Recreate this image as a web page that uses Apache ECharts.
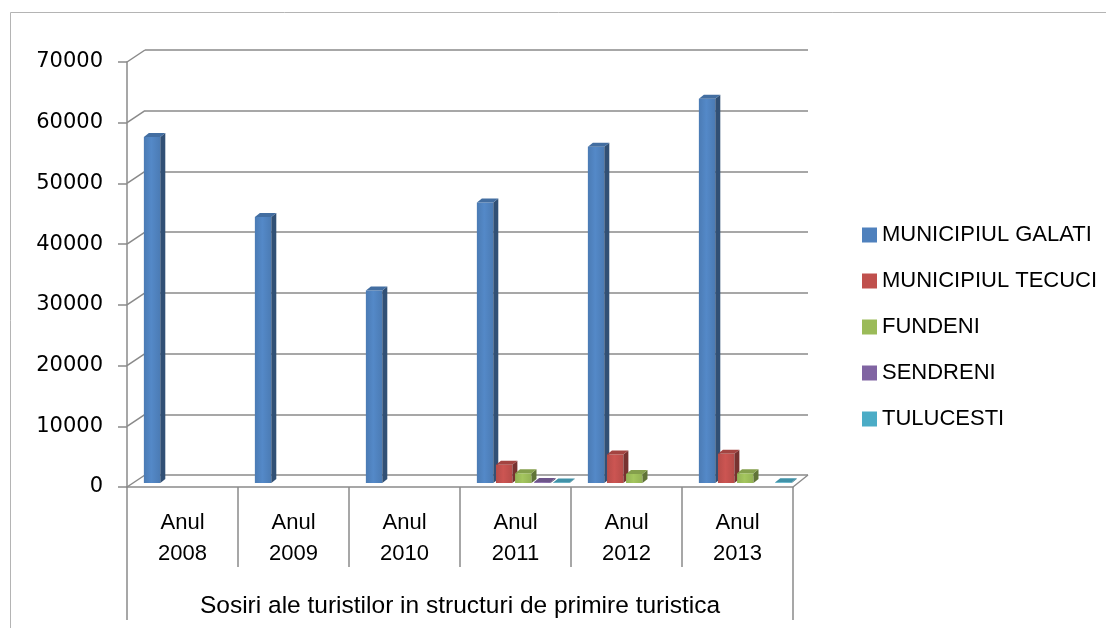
<!DOCTYPE html>
<html>
<head>
<meta charset="utf-8">
<title>Sosiri ale turistilor</title>
<script src="https://cdn.jsdelivr.net/npm/echarts@6/dist/echarts.min.js"></script>
<style>
  html, body { margin: 0; padding: 0; background: #fff; }
  #chart { width: 1106px; height: 628px; }
</style>
</head>
<body>
<div id="chart"></div>
<script>
/* ---------- data ---------- */
const categories = ["Anul\n2008", "Anul\n2009", "Anul\n2010", "Anul\n2011", "Anul\n2012", "Anul\n2013"];
const galati = [57000, 43800, 31700, 46200, 55400, 63300];
const tecuci = [0, 0, 0, 3000, 4700, 4800];
const fundeni = [0, 0, 0, 1600, 1500, 1600];
const sendreni = [0, 0, 0, 150, 0, 0];
const tulucesti = [0, 0, 0, 100, 0, 120];
const yTicks = [0, 10000, 20000, 30000, 40000, 50000, 60000, 70000];
const axisTitle = "Sosiri ale turistilor in structuri de primire turistica";

const seriesDefs = [
  { name: "MUNICIPIUL GALATI", data: galati, color: "#4F81BD" },
  { name: "MUNICIPIUL TECUCI", data: tecuci, color: "#C0504D" },
  { name: "FUNDENI", data: fundeni, color: "#9BBB59" },
  { name: "SENDRENI", data: sendreni, color: "#8064A2" },
  { name: "TULUCESTI", data: tulucesti, color: "#4BACC6" }
];

const lineColor = "#8a8a8a";
const labelFont = "Liberation Sans";

// multiply rgb channels (k < 1 darkens, k > 1 lightens)
function shade(hex, k) {
  const n = parseInt(hex.slice(1), 16);
  const ch = [(n >> 16) & 255, (n >> 8) & 255, n & 255].map(c => Math.max(0, Math.min(255, Math.round(c * k))));
  return "rgb(" + ch.join(",") + ")";
}

// draws a bar as a small box: front face, right side and top
function boxRenderer(slot, baseColor) {
  return function (params, api) {
    const v = api.value(1);
    if (!v) return null;
    const idx = api.value(0);
    const band = api.size([1, 0])[0];
    const base = api.coord([idx, 0]);
    const top = api.coord([idx, v]);
    const x = base[0] - band / 2 + band * 0.152 + slot * band * 0.172;
    const w = band * 0.148;
    const dx = 5, dy = 4, lift = 4;
    const y0 = base[1] - lift;
    const y1 = top[1] - lift;
    return {
      type: "group",
      children: [
        {
          type: "rect",
          shape: { x: x, y: y1, width: w, height: y0 - y1 },
          style: {
            fill: new echarts.graphic.LinearGradient(0, 0, 1, 0, [
              { offset: 0, color: shade(baseColor, 0.95) },
              { offset: 0.45, color: shade(baseColor, 1.06) },
              { offset: 1, color: shade(baseColor, 0.95) }
            ])
          }
        },
        {
          type: "polygon",
          shape: { points: [[x + w, y1], [x + w + dx, y1 - dy], [x + w + dx, y0 - dy], [x + w, y0]] },
          style: { fill: shade(baseColor, 0.62) }
        },
        {
          type: "polygon",
          shape: { points: [[x, y1], [x + dx, y1 - dy], [x + w + dx, y1 - dy], [x + w, y1]] },
          style: { fill: shade(baseColor, 0.85) }
        }
      ]
    };
  };
}

// short diagonal joins between the front axis and the back wall
function wallRenderer(params, api) {
  const v = api.value(1);
  const cs = params.coordSys;
  const p = api.coord([0, v]);
  const lines = [{
    type: "line",
    shape: { x1: cs.x, y1: p[1], x2: cs.x + 18, y2: p[1] - 12 },
    style: { stroke: lineColor, lineWidth: 1.5 }
  }];
  if (v === 0) {
    lines.push({
      type: "line",
      shape: { x1: cs.x + cs.width, y1: p[1], x2: cs.x + cs.width + 15, y2: p[1] - 12 },
      style: { stroke: lineColor, lineWidth: 1.5 }
    });
  }
  return { type: "group", children: lines };
}

function initChart() {
  const chart = echarts.init(document.getElementById("chart"), null, { renderer: "canvas" });

  const series = seriesDefs.map((s, i) => ({
    name: s.name,
    type: "custom",
    xAxisIndex: 0,
    yAxisIndex: 0,
    itemStyle: { color: s.color },
    renderItem: boxRenderer(i, s.color),
    encode: { x: 0, y: 1 },
    data: s.data.map((v, j) => [j, v]),
    z: 5
  }));

  series.push({
    type: "custom",
    xAxisIndex: 0,
    yAxisIndex: 0,
    silent: true,
    renderItem: wallRenderer,
    encode: { x: 0, y: 1 },
    data: yTicks.map(v => [0, v]),
    z: 1
  });

  const option = {
    backgroundColor: "#fff",
    animation: false,
    graphic: [{
      type: "rect",
      shape: { x: 10.5, y: 12.5, width: 1110, height: 640 },
      style: { fill: "none", stroke: "#b4b4b4", lineWidth: 1 },
      z: 0
    }],
    legend: {
      data: seriesDefs.map(s => s.name),
      orient: "vertical",
      left: 857,
      top: 219,
      itemWidth: 15,
      itemHeight: 15,
      itemGap: 24,
      icon: "rect",
      textStyle: { fontFamily: labelFont, fontSize: 22, color: "#000", padding: [0, 0, 0, 0] }
    },
    grid: [
      { left: 127, right: 313, top: 62, bottom: 141 },
      { left: 145, right: 298, top: 50, bottom: 153 }
    ],
    xAxis: [
      {
        type: "category",
        gridIndex: 0,
        data: categories,
        axisLine: { lineStyle: { color: lineColor, width: 1.5 } },
        axisTick: { show: true, interval: 0, length: 80, lineStyle: { color: lineColor, width: 1.5 } },
        axisLabel: {
          interval: 0,
          margin: 20,
          fontFamily: labelFont,
          fontSize: 22,
          lineHeight: 31,
          color: "#000"
        }
      },
      {
        type: "category",
        gridIndex: 0,
        position: "bottom",
        data: [""],
        axisLine: { show: false },
        axisTick: { show: true, length: 133, lineStyle: { color: lineColor, width: 1.5 } },
        axisLabel: { show: false },
        name: axisTitle,
        nameLocation: "middle",
        nameGap: 107,
        nameTextStyle: { fontFamily: labelFont, fontSize: 24.5, color: "#000", verticalAlign: "top" }
      },
      {
        type: "category",
        gridIndex: 1,
        data: categories,
        show: false
      }
    ],
    yAxis: [
      {
        type: "value",
        gridIndex: 0,
        min: 0,
        max: 70000,
        interval: 10000,
        axisLine: { show: true, lineStyle: { color: lineColor, width: 1.5 } },
        axisTick: { show: true, length: 9, lineStyle: { color: lineColor, width: 1.5 } },
        splitLine: { show: false },
        axisLabel: {
          margin: 24,
          fontFamily: "DejaVu Sans",
          fontSize: 21,
          color: "#000",
          formatter: v => String(v)
        }
      },
      {
        type: "value",
        gridIndex: 1,
        min: 0,
        max: 70000,
        interval: 10000,
        axisLine: { show: false },
        axisTick: { show: false },
        axisLabel: { show: false },
        splitLine: { show: true, lineStyle: { color: lineColor, width: 1.5 } }
      }
    ],
    series: series
  };

  chart.setOption(option);
  window.addEventListener("resize", () => chart.resize());
}

document.addEventListener("DOMContentLoaded", initChart);
</script>
</body>
</html>
